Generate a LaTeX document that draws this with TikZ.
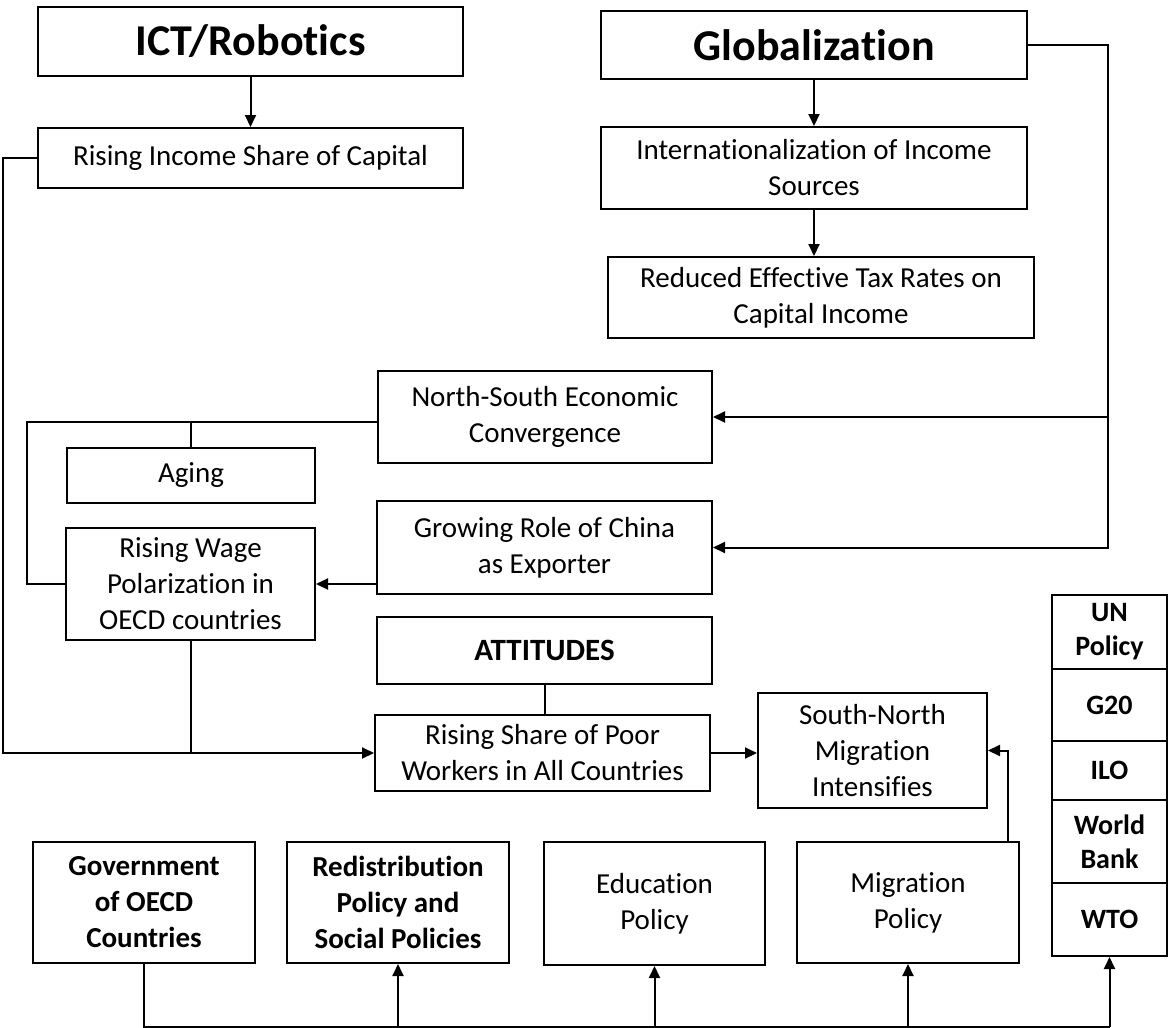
\documentclass[tikz,border=0pt]{standalone}
\usepackage{fontspec}
\setmainfont{Carlito}[Ligatures=NoCommon]
\usetikzlibrary{arrows.meta}

\begin{document}
\begin{tikzpicture}[x=1pt,y=-1pt]
    \useasboundingbox (0,0) rectangle (1168,1028);
    \begin{scope}[every node/.style={draw,line width=2pt,inner sep=0pt,align=center,
                  font=\fontsize{29}{36}\selectfont},
        big/.style={font=\fontsize{44}{50}\selectfont\bfseries},
        bold/.style={font=\fontsize{29}{36}\selectfont\bfseries},
        org/.style={minimum width=115,font=\fontsize{28}{34}\selectfont\bfseries}]
      % drivers
      \node[big,minimum width=425,minimum height=69] (ict) at (250.5,41.5) {ICT/Robotics};
      \node[minimum width=425,minimum height=60] (ris) at (250.5,158) {Rising Income Share of Capital};
      \node[big,minimum width=426,minimum height=68] (glob) at (814,45) {Globalization};
      \node[minimum width=426,minimum height=82] (intl) at (814,168) {Internationalization of Income\\Sources};
      \node[minimum width=426,minimum height=81] (tax) at (821,297.5) {Reduced Effective Tax Rates on\\Capital Income};
      % middle
      \node[minimum width=334,minimum height=92] (ns) at (545,417) {North-South Economic\\Convergence};
      \node[minimum width=248,minimum height=55] (aging) at (191,475.5) {Aging};
      \node[minimum width=335,minimum height=93] (china) at (544.5,547.5) {Growing Role of China\\as Exporter};
      \node[minimum width=249,minimum height=112] (wage) at (190.5,584) {Rising Wage\\Polarization in\\OECD countries};
      \node[bold,font=\fontsize{31}{36}\selectfont\bfseries,minimum width=335,minimum height=67] (att) at (544.5,650.5) {ATTITUDES};
      \node[minimum width=335,minimum height=76] (rsp) at (542.5,753) {Rising Share of Poor\\Workers in All Countries};
      \node[minimum width=229,minimum height=115] (snm) at (872.5,750.5) {South-North\\Migration\\Intensifies};
      % policies
      \node[bold,minimum width=222,minimum height=121] (gov) at (144,902.5) {Government\\of OECD\\Countries};
      \node[bold,minimum width=222,minimum height=121] (redis) at (398,902.5) {Redistribution\\Policy and\\Social Policies};
      \node[minimum width=221,minimum height=123] (edu) at (654.5,903.5) {Education\\Policy};
      \node[minimum width=222,minimum height=121] (mig) at (908,902.5) {Migration\\Policy};
      % international bodies
      \node[org,minimum height=74] (un) at (1109.5,632) {UN\\Policy};
      \node[org,minimum height=72] (g20) at (1109.5,705) {G20};
      \node[org,minimum height=59] (ilo) at (1109.5,770.5) {ILO};
      \node[org,minimum height=83] (wb) at (1109.5,841.5) {World\\Bank};
      \node[org,minimum height=73] (wto) at (1109.5,919.5) {WTO};
    \end{scope}

    \coordinate (gr) at (1108,45);
    \coordinate (nl) at (27,422);
    \coordinate (ll) at (3,0);
    \coordinate (mu) at (1008,842);
    \coordinate (bus) at (0,1027);

    \begin{scope}[>={Triangle[length=12pt,width=11pt]},line width=2pt]
      \draw [->] (ict) -- (ris);
      \draw [->] (glob) -- (intl);
      \draw [->] (intl.south) -- (intl.south |- tax.north);
      \draw [->] (glob.east) -- (gr) |- (ns.east);
      \draw [->] (gr) |- (china.east);
      \draw [->] (china.west |- wage.east) -- (wage.east);
      \draw (ns.west |- nl) -- (nl) |- (wage.west);
      \draw (aging.north |- nl) -- (aging.north);
      \draw (wage.south) -- (wage.south |- rsp.west);
      \draw [->] (ris.west) -- (ris.west -| ll) |- (rsp.west);
      \draw (att.south) -- (att.south |- rsp.north);
      \draw [->] (rsp.east) -- (snm.west |- rsp.east);
      \draw [->] (mu) |- (snm.east);
      \draw (gov.south) -- (gov.south |- bus) -- (wto.south |- bus);
      \foreach \n in {redis,edu,mig,wto}
        \draw [->] (\n.south |- bus) -- (\n.south);
    \end{scope}
\end{tikzpicture}
\end{document}
